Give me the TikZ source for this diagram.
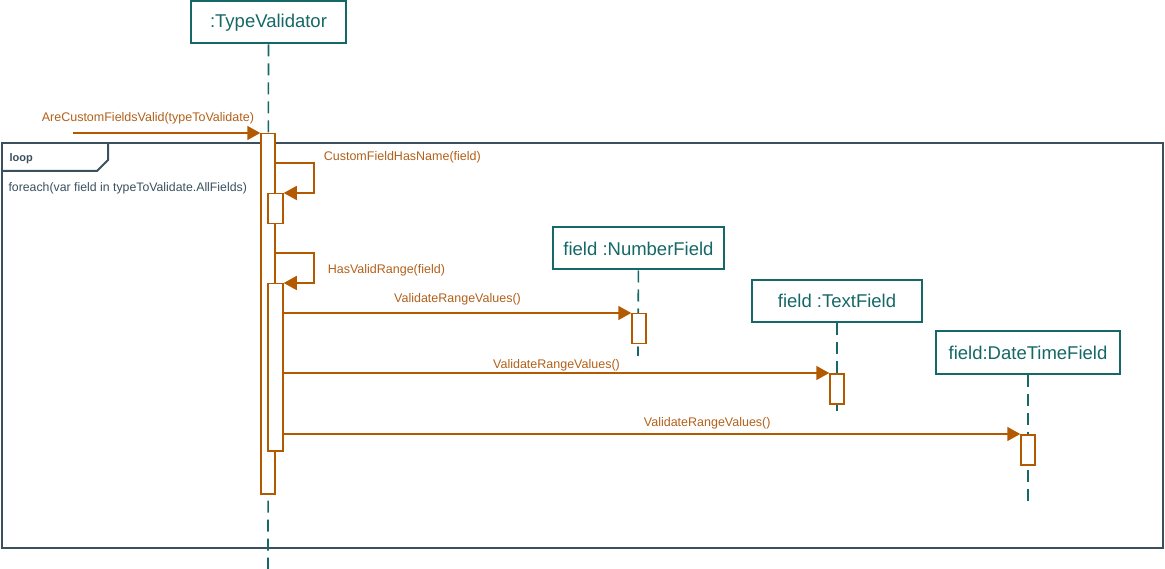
\documentclass[tikz,border=0pt]{standalone}
\usepackage{fontspec}
\setmainfont{Liberation Sans}
\usetikzlibrary{positioning}
\usetikzlibrary{arrows.meta}
\definecolor{msgorange}{RGB}{179,89,0}
\definecolor{lbltext}{RGB}{178,96,26}
\definecolor{objteal}{RGB}{22,103,103}
\definecolor{framegrey}{RGB}{58,80,94}

\begin{document}
\begin{tikzpicture} [x=1pt, y=-1pt, obj/.style = {draw=objteal, line width=2pt, text=objteal, font=\fontsize{18.5}{20}\selectfont, inner sep=0pt, minimum height=42pt}, life/.style = {draw=objteal, line width=1.6pt, dash pattern=on 12pt off 7pt}, act/.style = {draw=msgorange, line width=1.5pt, fill=white, minimum width=14pt, inner sep=0pt, anchor=north}, msg/.style = {draw=msgorange, line width=1.5pt, -{Triangle[length=13pt,width=14pt]}}, lbl/.style = {text=lbltext, font=\fontsize{12.5}{14}\selectfont}]
        \useasboundingbox (0,0) rectangle (1165,569);

        %Rahmen
        \draw[framegrey, line width=2.5pt] (2,143) rectangle (1163,548);
        \draw[framegrey, line width=2pt] (2,171) -- (97,171) -- (108,160) -- (108,143);
        \node[anchor=west, text=framegrey, font=\bfseries\fontsize{11}{13}\selectfont] (loop) at (6,159) {loop};
        \node[anchor=west, text=framegrey, font=\fontsize{12.3}{14}\selectfont] (guard) at (5,188) {foreach(var field in typeToValidate.AllFields)};

        %Objekte
        \node[obj, minimum width=155pt] (tv) at (268.5,22.5) {:TypeValidator};
        \node[obj, minimum width=171pt] (nf) at (638.5,248.5) {field :NumberField};
        \node[obj, minimum width=170pt] (tf) at (837,301) {field :TextField};
        \node[obj, minimum width=184pt] (df) at (1028,352.5) {field:DateTimeField};

        \coordinate (tvend) at (268,569);
        \coordinate (nfend) at (638,356);
        \coordinate (tfend) at (837,412);
        \coordinate (dfend) at (1028,506);
        \coordinate (start) at (73,133);

        \draw[life] (tv) -- (tvend);
        \draw[life] (nf) -- (nfend);
        \draw[life] (tf) -- (tfend);
        \draw[life] (df) -- (dfend);

        %Aktivierungen
        \node[act, minimum height=360pt] (a0) at (268,133) {};
        \node[act, minimum height=30pt, minimum width=15pt] (a1) at (275.5,193) {};
        \node[act, minimum height=167pt, minimum width=15pt] (a2) at (275.5,283) {};
        \node[act, minimum height=30pt] (n1) at (639,313) {};
        \node[act, minimum height=30pt] (t1) at (837,373) {};
        \node[act, minimum height=30pt] (d1) at (1028,434) {};

        %Nachrichten
        \draw[msg] (start) -- (a0.north west) node[lbl, pos=0.4, above=5pt] {AreCustomFieldsValid(typeToValidate)};

        \draw[msg] ([yshift=-30pt]a0.north east) -- ++(38,0) node[lbl, right=6pt, yshift=6pt] {CustomFieldHasName(field)} |- (a1.north east);
        \draw[msg] ([yshift=-120pt]a0.north east) -- ++(38,0) |- (a2.north east) node[lbl, pos=0.25, right=10pt, yshift=-2pt] {HasValidRange(field)};

        \draw[msg] (a2.east |- n1.north) -- (n1.north west) node[lbl, midway, above=4pt] {ValidateRangeValues()};
        \draw[msg] (a2.east |- t1.north) -- (t1.north west) node[lbl, midway, above=-2pt] {ValidateRangeValues()};
        \draw[msg] (a2.east |- d1.north) -- (d1.north west) node[lbl, pos=0.575, above=1pt] {ValidateRangeValues()};

    \end{tikzpicture}
\end{document}
